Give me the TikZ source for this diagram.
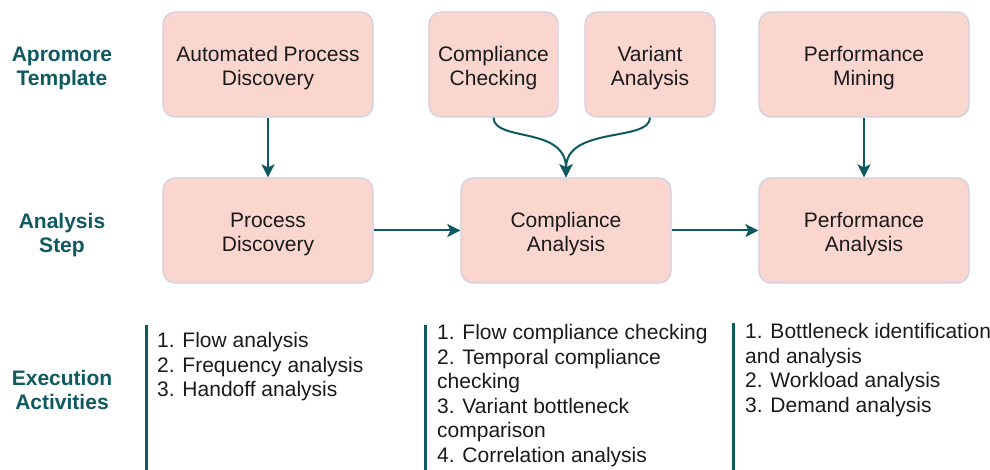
\documentclass[tikz,border=0pt]{standalone}
\usepackage{fontspec}
\setmainfont{Liberation Sans}
\usetikzlibrary{arrows.meta}
\definecolor{teal}{HTML}{0F5A62}
\definecolor{boxfill}{HTML}{FAD6CF}
\definecolor{boxline}{HTML}{D2D0E2}
\definecolor{ink}{HTML}{1A1A1A}
\begin{document}
\begin{tikzpicture}[x=1pt,y=-1pt,
  stagebox/.style={draw=boxline,fill=boxfill,line width=1.3pt,rounded corners=12pt,
    minimum height=105pt,align=center,text=ink,inner sep=2pt,
    text height=47pt,text depth=4.5pt,
    font=\fontsize{21}{24}\selectfont},
  rowlabel/.style={align=center,text=teal,font=\fontsize{21}{24}\selectfont\bfseries},
  actlist/.style={anchor=north west,align=left,inner sep=0pt,text=ink,
    font=\fontsize{21}{24.6}\selectfont},
  flow/.style={draw=teal,line width=2pt,-{Stealth[length=13pt,width=13pt,inset=3pt]}},
  divider/.style={draw=teal,line width=3pt}]
\useasboundingbox (0,0) rectangle (990,470);

% row labels
\node[rowlabel] (lt) at (62,68) {Apromore\\Template};
\node[rowlabel] (ls) at (62,235) {Analysis\\Step};
\node[rowlabel] (le) at (62,390) {Execution\\Activities};

% template row
\node[stagebox,minimum width=210pt] (apd) at (268,64.5) {Automated Process\\Discovery};
\node[stagebox,minimum width=129pt] (cc) at (493.5,64.5) {Compliance\\Checking};
\node[stagebox,minimum width=130pt] (va) at (650,64.5) {Variant\\Analysis};
\node[stagebox,minimum width=210pt] (pm) at (864,64.5) {Performance\\Mining};

% analysis step row
\node[stagebox,minimum width=210pt] (pd) at (268,230.5) {Process\\Discovery};
\node[stagebox,minimum width=210pt] (ca) at (566,230.5) {Compliance\\Analysis};
\node[stagebox,minimum width=210pt] (pa) at (864,230.5) {Performance\\Analysis};

% connectors
\draw[flow] (apd) -- (pd);
\draw[flow] (pm) -- (pa);
\draw[flow] (pd) -- (ca);
\draw[flow] (ca) -- (pa);
\draw[flow] (cc.south) .. controls (494,142) and (566,126) .. (ca.north);
\draw[flow] (va.south) .. controls (650,142) and (566,126) .. (ca.north);

% execution activity columns
\draw[divider] (146,325) -- (146,470);
\draw[divider] (425,325) -- (425,470);
\draw[divider] (733,323) -- (733,470);

\node[actlist] (a1) at (157,332) {1. Flow analysis\\2. Frequency analysis\\3. Handoff analysis};
\node[actlist] (a2) at (437,324) {1. Flow compliance checking\\2. Temporal compliance\\checking\\3. Variant bottleneck\\comparison\\4. Correlation analysis};
\node[actlist] (a3) at (745,323) {1. Bottleneck identification\\and analysis\\2. Workload analysis\\3. Demand analysis};
\end{tikzpicture}
\end{document}
